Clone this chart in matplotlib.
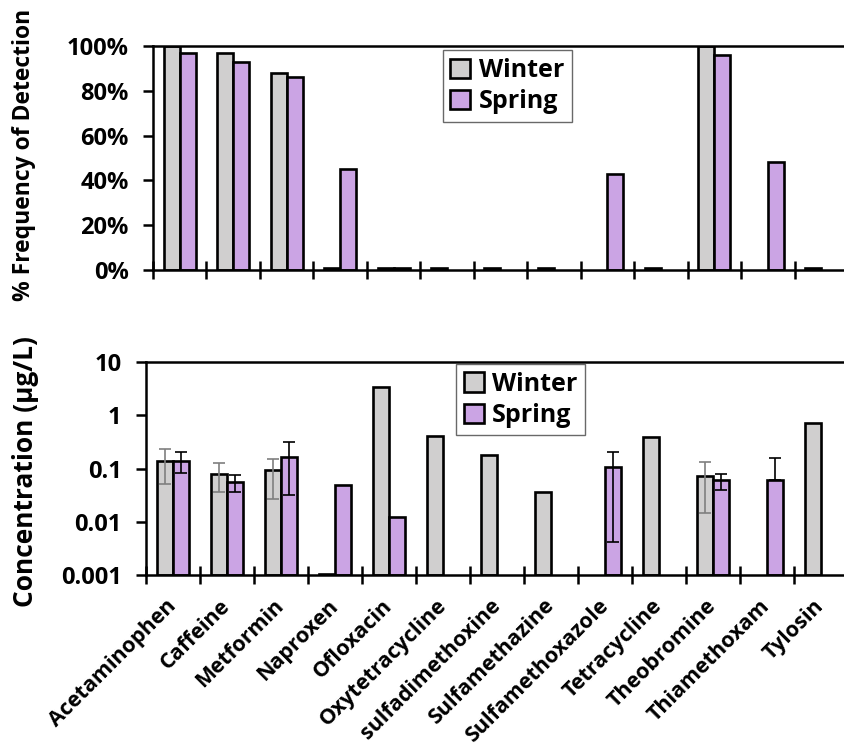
import numpy as np
import matplotlib
matplotlib.use("Agg")
import matplotlib.pyplot as plt
from matplotlib.ticker import FixedLocator

plt.rcParams['font.family'] = ['Open Sans', 'DejaVu Sans']

categories = ["Acetaminophen", "Caffeine", "Metformin", "Naproxen", "Ofloxacin",
              "Oxytetracycline", "sulfadimethoxine", "Sulfamethazine",
              "Sulfamethoxazole", "Tetracycline", "Theobromine", "Thiamethoxam", "Tylosin"]

# % frequency of detection
freq_winter = [100, 97, 88, 1, 1, 1, 1, 1, np.nan, 1, 100, np.nan, 1]
freq_spring = [97, 93, 86, 45, 1, np.nan, np.nan, np.nan, 43, np.nan, 96, 48, np.nan]

# concentration (ug/L)
conc_winter = [0.14, 0.080, 0.093, 0.00105, 3.4, 0.41, 0.178, 0.0365, np.nan, 0.39, 0.071, np.nan, 0.71]
conc_spring = [0.14, 0.056, 0.168, 0.049, 0.0125, np.nan, np.nan, np.nan, 0.105, np.nan, 0.060, 0.060, np.nan]

# error bar ends (absolute low / high)
err_winter_low = [0.051, 0.036, 0.027, np.nan, np.nan, np.nan, np.nan, np.nan, np.nan, np.nan, 0.0145, np.nan, np.nan]
err_winter_high = [0.234, 0.126, 0.152, np.nan, np.nan, np.nan, np.nan, np.nan, np.nan, np.nan, 0.134, np.nan, np.nan]
err_spring_low = [0.084, 0.036, 0.032, np.nan, np.nan, np.nan, np.nan, np.nan, 0.0041, np.nan, 0.0398, 0.060, np.nan]
err_spring_high = [0.206, 0.077, 0.318, np.nan, np.nan, np.nan, np.nan, np.nan, 0.206, np.nan, 0.0785, 0.155, np.nan]

c_winter = "#D0CFCF"
c_spring = "#CBA4E4"
W = 0.30
EDGE_LW = 1.9
FS_TICK = 17
FS_XT = 15.5
FS_LAB1 = 16.5
FS_LAB2 = 19
FS_LEG = 18

fig = plt.figure(figsize=(8.45, 7.5), dpi=100)
n = len(categories)
x = np.arange(n)

ax1 = fig.add_axes([153/845, 1-270/750, 695/845, 224/750])
ax2 = fig.add_axes([146/845, 1-575/750, 702/845, 213/750])

def style_axis(ax):
    ax.spines['right'].set_visible(False)
    for s in ['left', 'bottom', 'top']:
        ax.spines[s].set_linewidth(1.8)
    ax.set_xlim(-0.5, n - 0.5)
    ax.xaxis.set_minor_locator(FixedLocator(np.arange(-0.5, n, 1.0)))
    ax.tick_params(axis='x', which='minor', direction='inout', length=13, width=1.8)
    ax.tick_params(axis='x', which='major', length=0)
    ax.tick_params(axis='y', which='major', direction='out', length=7.5, width=1.8,
                   labelsize=FS_TICK, pad=10)

def add_legend(ax, anchor):
    leg = ax.legend(loc='upper left', bbox_to_anchor=anchor, borderaxespad=0,
                    frameon=True, fancybox=False, edgecolor='#444444',
                    prop={'weight': 'bold', 'size': FS_LEG}, handlelength=0.8, handleheight=0.8,
                    handletextpad=0.35, labelspacing=0.25, borderpad=0.3)
    leg.get_frame().set_linewidth(1.0)
    return leg

# Top panel
ax1.bar(x - W/2, freq_winter, W, color=c_winter, edgecolor='black', linewidth=EDGE_LW, label='Winter')
ax1.bar(x + W/2, freq_spring, W, color=c_spring, edgecolor='black', linewidth=EDGE_LW, label='Spring')
ax1.set_ylim(0, 100)
ax1.set_yticks([0, 20, 40, 60, 80, 100])
ax1.set_yticklabels([f"{v}%" for v in [0, 20, 40, 60, 80, 100]], fontweight='bold', fontsize=FS_TICK)
ax1.set_xticks(x)
ax1.set_xticklabels([])
style_axis(ax1)
add_legend(ax1, (0.417, 0.98))

# Bottom panel
base = 0.001
cw = np.array(conc_winter)
cs = np.array(conc_spring)
ax2.bar(x - W/2, cw - base, W, bottom=base, color=c_winter, edgecolor='black', linewidth=EDGE_LW, label='Winter')
ax2.bar(x + W/2, cs - base, W, bottom=base, color=c_spring, edgecolor='black', linewidth=EDGE_LW, label='Spring')

wl = np.array(err_winter_low); wh = np.array(err_winter_high)
sl = np.array(err_spring_low); sh = np.array(err_spring_high)
mw = ~np.isnan(wl)
ax2.errorbar(x[mw] - W/2, cw[mw], yerr=[cw[mw] - wl[mw], wh[mw] - cw[mw]], fmt='none',
             ecolor='#7F7F7F', elinewidth=1.2, capsize=4, capthick=1.2)
ms = ~np.isnan(sl)
ax2.errorbar(x[ms] + W/2, cs[ms], yerr=[cs[ms] - sl[ms], sh[ms] - cs[ms]], fmt='none',
             ecolor='black', elinewidth=1.2, capsize=4, capthick=1.2)

ax2.set_yscale('log')
ax2.set_ylim(0.001, 10)
ax2.yaxis.set_minor_locator(FixedLocator([]))
ax2.set_yticks([0.001, 0.01, 0.1, 1, 10])
ax2.set_yticklabels(["0.001", "0.01", "0.1", "1", "10"], fontweight='bold', fontsize=FS_TICK)
ax2.set_xticks(x)
ax2.set_xticklabels(categories, rotation=45, ha='right', va='center', rotation_mode='anchor',
                    fontsize=FS_XT, fontweight='bold')
style_axis(ax2)
ax2.tick_params(axis='x', which='major', pad=20)
add_legend(ax2, (0.4416, 0.99))

fig.text(24/845, 1-155/750, "% Frequency of Detection", rotation=90, ha='center', va='center',
         fontsize=FS_LAB1, fontweight='bold')
fig.text(26/845, 1-472/750, "Concentration (μg/L)", rotation=90, ha='center', va='center',
         fontsize=FS_LAB2, fontweight='bold')

fig.savefig("out.png", dpi=100)
